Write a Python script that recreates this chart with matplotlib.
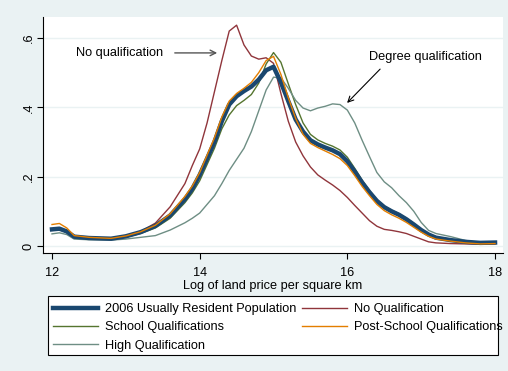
import matplotlib
matplotlib.use("Agg")
import matplotlib.pyplot as plt
from matplotlib.patches import Rectangle

plt.rcParams['font.family'] = ['Liberation Sans', 'DejaVu Sans']

# log land price grid and kernel density estimates for each group
log_price = [12.0, 12.1, 12.2, 12.3, 12.5, 12.8, 13.0, 13.2, 13.4, 13.6, 13.8, 13.9,
             14.0, 14.1, 14.2, 14.3, 14.4, 14.5, 14.6, 14.7, 14.8, 14.9, 15.0, 15.1,
             15.2, 15.3, 15.4, 15.5, 15.6, 15.7, 15.8, 15.9, 16.0, 16.1, 16.2, 16.3,
             16.4, 16.5, 16.6, 16.7, 16.8, 16.9, 17.0, 17.1, 17.2, 17.4, 17.6, 17.8, 18.0]

total_pop = [0.048, 0.050, 0.042, 0.027, 0.023, 0.021, 0.028, 0.040, 0.058, 0.088, 0.135, 0.165,
             0.205, 0.252, 0.300, 0.360, 0.408, 0.432, 0.447, 0.460, 0.480, 0.507, 0.517, 0.472,
             0.418, 0.365, 0.330, 0.305, 0.293, 0.284, 0.276, 0.265, 0.244, 0.215, 0.183, 0.155,
             0.130, 0.112, 0.100, 0.090, 0.077, 0.062, 0.046, 0.033, 0.024, 0.017, 0.012, 0.009, 0.010]

no_qual = [0.048, 0.050, 0.040, 0.026, 0.022, 0.020, 0.030, 0.042, 0.066, 0.113, 0.180, 0.232,
           0.280, 0.355, 0.445, 0.535, 0.620, 0.637, 0.580, 0.548, 0.539, 0.543, 0.527, 0.440,
           0.360, 0.300, 0.260, 0.228, 0.205, 0.190, 0.176, 0.160, 0.140, 0.117, 0.095, 0.073,
           0.057, 0.048, 0.045, 0.041, 0.036, 0.028, 0.020, 0.012, 0.009, 0.007, 0.006, 0.005, 0.006]

school_qual = [0.045, 0.047, 0.040, 0.023, 0.020, 0.019, 0.025, 0.036, 0.052, 0.080, 0.125, 0.153,
               0.188, 0.235, 0.282, 0.338, 0.378, 0.405, 0.420, 0.437, 0.470, 0.525, 0.558, 0.530,
               0.468, 0.408, 0.355, 0.322, 0.306, 0.296, 0.288, 0.277, 0.256, 0.224, 0.190, 0.160,
               0.134, 0.115, 0.103, 0.093, 0.080, 0.065, 0.048, 0.034, 0.025, 0.018, 0.013, 0.010, 0.011]

post_school = [0.062, 0.065, 0.052, 0.030, 0.025, 0.022, 0.029, 0.041, 0.060, 0.093, 0.143, 0.173,
               0.212, 0.262, 0.312, 0.372, 0.418, 0.440, 0.455, 0.472, 0.500, 0.535, 0.547, 0.495,
               0.428, 0.368, 0.322, 0.296, 0.284, 0.274, 0.264, 0.252, 0.232, 0.203, 0.172, 0.145,
               0.120, 0.102, 0.090, 0.080, 0.068, 0.054, 0.040, 0.028, 0.020, 0.014, 0.009, 0.006, 0.007]

high_qual = [0.035, 0.038, 0.033, 0.020, 0.018, 0.017, 0.020, 0.025, 0.030, 0.046, 0.067, 0.080,
             0.095, 0.120, 0.145, 0.180, 0.218, 0.250, 0.282, 0.330, 0.390, 0.450, 0.487, 0.485,
             0.455, 0.420, 0.398, 0.390, 0.398, 0.403, 0.410, 0.408, 0.392, 0.355, 0.305, 0.258,
             0.212, 0.185, 0.168, 0.145, 0.125, 0.100, 0.068, 0.045, 0.036, 0.027, 0.016, 0.010, 0.012]

x_ticks = [12, 14, 16, 18]
y_ticks = [0, 0.2, 0.4, 0.6]
y_ticklabels = ['0', '.2', '.4', '.6']

W, H = 508, 371
fs = 9.2
bg = '#EAF2F3'
fig = plt.figure(figsize=(W / 100, H / 100), dpi=100, facecolor=bg)
ax = fig.add_axes([43 / W, 1 - 253 / H, 460 / W, 236 / H])
ax.set_facecolor('white')

h_total, = ax.plot(log_price, total_pop, color='#1A476F', lw=3.2,
                   label='2006 Usually Resident Population', zorder=3)
h_noq, = ax.plot(log_price, no_qual, color='#90353B', lw=1.0, label='No Qualification')
h_school, = ax.plot(log_price, school_qual, color='#55752F', lw=1.0, label='School Qualifications')
h_post, = ax.plot(log_price, post_school, color='#E37E00', lw=1.0,
                  label='Post-School Qualifications', zorder=4)
h_high, = ax.plot(log_price, high_qual, color='#6E8E84', lw=1.0, label='High Qualification')

ax.set_xlim(11.878, 18.108)
ax.set_ylim(-0.0202, 0.6606)
ax.set_xticks(x_ticks)
ax.set_yticks(y_ticks)
ax.set_yticklabels(y_ticklabels, rotation=90, va='center')
ax.tick_params(axis='both', labelsize=fs, length=4, width=0.8, color='black', pad=2)
ax.tick_params(axis='x', pad=6)
for y in y_ticks:
    ax.axhline(y, color=bg, lw=1.0, zorder=0)
for side in ['top', 'right']:
    ax.spines[side].set_visible(False)
for side in ['left', 'bottom']:
    ax.spines[side].set_linewidth(0.8)
ax.set_xlabel('Log of land price per square km', fontsize=fs, labelpad=0.5)

ax.annotate('', xy=(14.275, 0.557), xytext=(13.625, 0.557),
            arrowprops=dict(arrowstyle='->', color='#555555', lw=1.0))
ax.text(12.325, 0.557, 'No qualification', fontsize=fs, va='center', ha='left')
ax.annotate('', xy=(15.97, 0.407), xytext=(16.47, 0.516),
            arrowprops=dict(arrowstyle='->', color='black', lw=0.8))
ax.text(16.294, 0.545, 'Degree qualification', fontsize=fs, va='center', ha='left')

# legend frame drawn separately so the long label may run past it
fig.patches.append(Rectangle((48 / W, 1 - 355 / H), 450 / W, 59 / H,
                             transform=fig.transFigure, facecolor='white',
                             edgecolor='black', lw=0.8, zorder=1))
order = [h_total, h_school, h_high, h_noq, h_post]
fig.legend(order, [h.get_label() for h in order],
           loc='upper left', bbox_to_anchor=(53 / W, 1 - 303 / H),
           ncol=2, fontsize=fs, frameon=False, handlelength=3.5, handletextpad=0.55,
           labelspacing=0.5, borderpad=0.0, columnspacing=0.45, borderaxespad=0)

fig.savefig('out.png', dpi=100, facecolor=bg)
